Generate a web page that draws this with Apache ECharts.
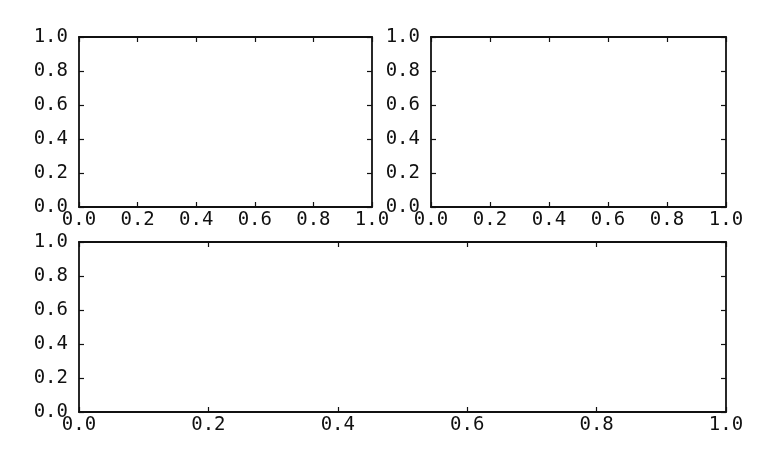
<!DOCTYPE html>
<html>
<head>
<meta charset="utf-8">
<script src="https://cdn.jsdelivr.net/npm/echarts@6/dist/echarts.min.js"></script>
<style>
html,body{margin:0;padding:0;background:#fff;}
#c{width:778px;height:463px;}
</style>
</head>
<body>
<div id="c"></div>
<script>
// Axis ranges and tick values (all three subplots are empty, 0..1 on both axes)
var axisMin = 0.0;
var axisMax = 1.0;
var tickStep = 0.2;
var tickLabels = ["0.0", "0.2", "0.4", "0.6", "0.8", "1.0"];

var chart = echarts.init(document.getElementById('c'), null, {renderer: 'canvas'});

var grids = [
  {left: 79, top: 37, width: 293, height: 170},
  {left: 431, top: 37, width: 295, height: 170},
  {left: 79, top: 242, width: 647, height: 170}
];

var FONT = '"DejaVu Sans Mono", monospace';
var lineStyle = {color: '#111', width: 1.8};

function fmt(v) { return tickLabels[Math.round((v - axisMin) / tickStep)]; }

function makeAxis(kind, gi, position, showLabel) {
  return {
    type: 'value',
    gridIndex: gi,
    position: position,
    min: axisMin,
    max: axisMax,
    interval: tickStep,
    splitLine: {show: false},
    axisLine: {show: true, onZero: false, lineStyle: lineStyle},
    axisTick: {show: true, inside: true, length: 5, lineStyle: {color: '#111', width: 1.2}},
    axisLabel: {
      show: showLabel,
      formatter: fmt,
      color: '#111',
      fontFamily: FONT,
      fontSize: 19,
      margin: kind === 'x' ? 4 : 11,
      showMinLabel: true,
      showMaxLabel: true
    }
  };
}

var xAxes = [], yAxes = [], series = [];
grids.forEach(function (g, i) {
  xAxes.push(makeAxis('x', i, 'bottom', true));
  xAxes.push(makeAxis('x', i, 'top', false));
  yAxes.push(makeAxis('y', i, 'left', true));
  yAxes.push(makeAxis('y', i, 'right', false));
  series.push({type: 'line', xAxisIndex: 2 * i, yAxisIndex: 2 * i, data: [], silent: true});
});

chart.setOption({
  animation: false,
  backgroundColor: '#fff',
  grid: grids,
  xAxis: xAxes,
  yAxis: yAxes,
  series: series
});
</script>
</body>
</html>
